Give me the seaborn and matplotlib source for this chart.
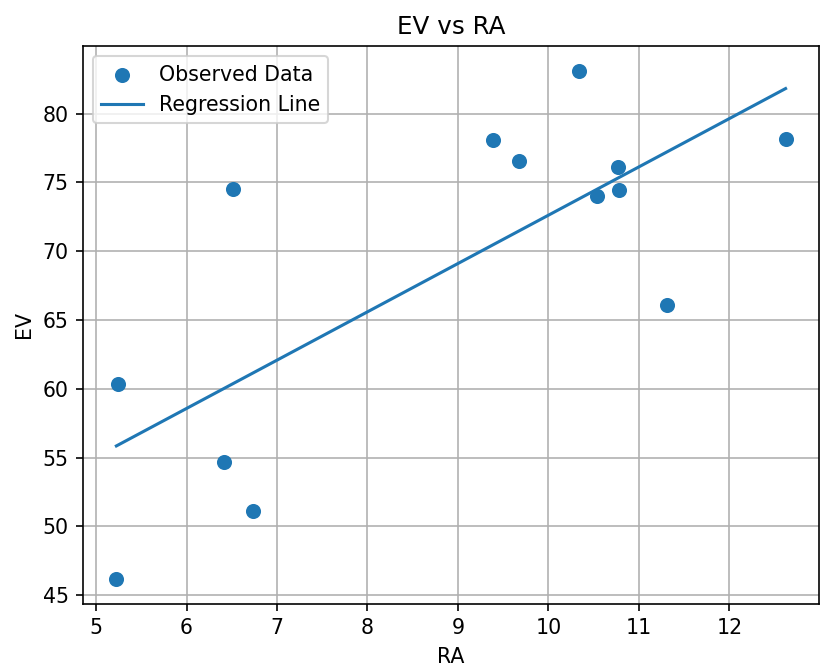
import numpy as np
import pandas as pd
import seaborn as sns
import matplotlib
matplotlib.use("Agg")
import matplotlib.pyplot as plt

# values
ra = [5.225, 5.246, 6.41, 6.51, 6.735, 9.39, 9.67, 10.34, 10.54, 10.77, 10.78, 11.31, 12.62]
ev = [46.21, 60.34, 54.66, 74.53, 51.09, 78.06, 76.53, 83.07, 74.0, 76.11, 74.44, 66.11, 78.16]

df = pd.DataFrame({"RA": ra, "EV": ev})

# least squares fit of EV on RA
slope, intercept = np.polyfit(df["RA"], df["EV"], 1)
df["fit"] = slope * df["RA"] + intercept

fig, ax = plt.subplots(figsize=(821 / 148, 667 / 148), dpi=148)
fig.subplots_adjust(left=0.101, right=0.9976, top=0.931, bottom=0.0945)

sns.scatterplot(data=df, x="RA", y="EV", ax=ax, color="#1f77b4", s=40,
                edgecolor="#1f77b4", linewidth=1, label="Observed Data", zorder=3)
sns.lineplot(data=df, x="RA", y="fit", ax=ax, color="#1f77b4", linewidth=1.5,
             estimator=None, label="Regression Line", zorder=2)

ax.set_title("EV vs RA")
ax.set_xlabel("RA")
ax.set_ylabel("EV")
ax.grid(True)
ax.legend(loc="upper left")

fig.savefig("out.png", dpi=148)
